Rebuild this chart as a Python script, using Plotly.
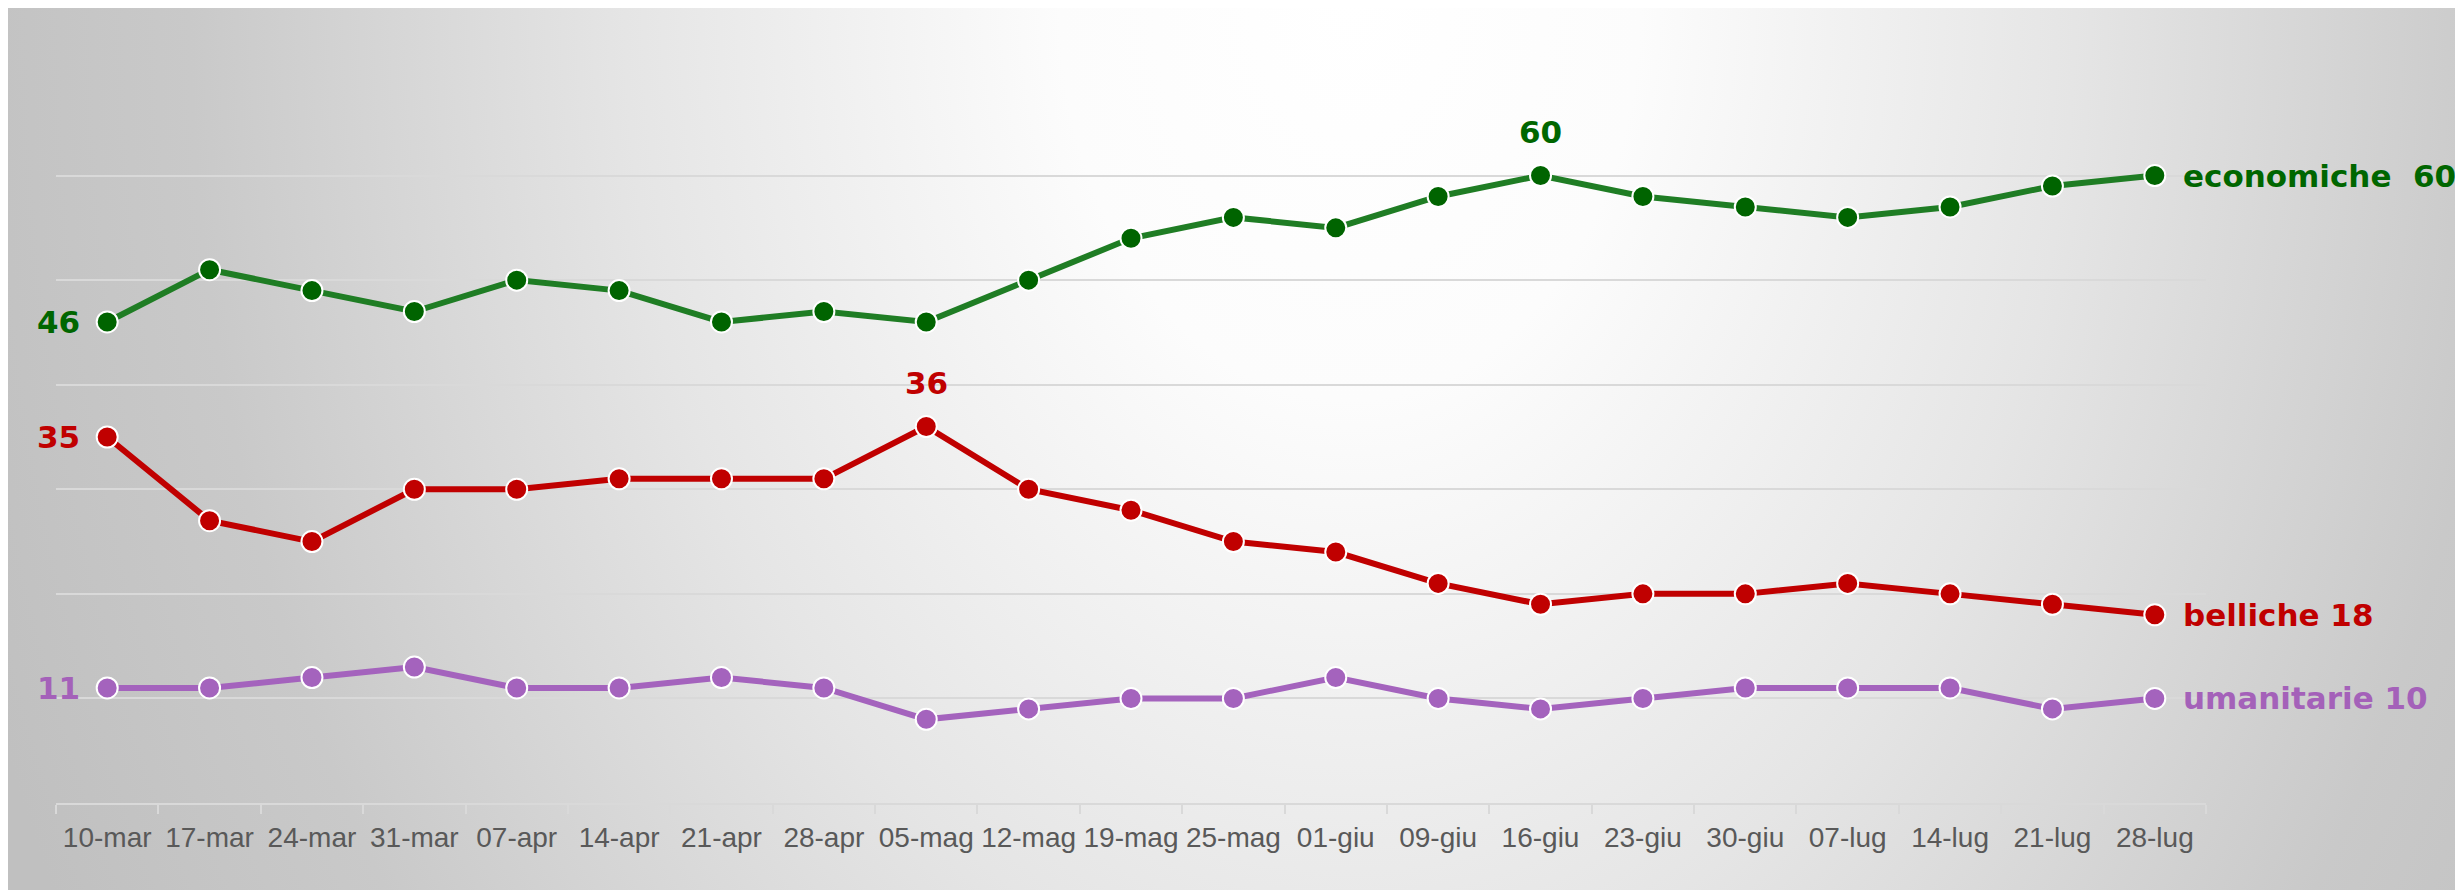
import base64
import plotly.graph_objects as go

dates = ["10-mar", "17-mar", "24-mar", "31-mar", "07-apr", "14-apr", "21-apr", "28-apr",
         "05-mag", "12-mag", "19-mag", "25-mag", "01-giu", "09-giu", "16-giu", "23-giu",
         "30-giu", "07-lug", "14-lug", "21-lug", "28-lug"]
economiche = [46, 51, 49, 47, 50, 49, 46, 47, 46, 50, 54, 56, 55, 58, 60, 58, 57, 56, 57, 59, 60]
belliche = [35, 27, 25, 30, 30, 31, 31, 31, 36, 30, 28, 25, 24, 21, 19, 20, 20, 21, 20, 19, 18]
umanitarie = [11, 11, 12, 13, 11, 11, 12, 11, 8, 9, 10, 10, 12, 10, 9, 10, 11, 11, 11, 9, 10]

series = [
    ("economiche", economiche, "#1f7d24", "#006400", "#006600", "economiche\u00a0\u00a0"),
    ("belliche", belliche, "#c00000", "#c00000", "#c00000", "belliche "),
    ("umanitarie", umanitarie, "#a463bd", "#a463bd", "#a461b9", "umanitarie "),
]

W, H = 2455, 882
ML, MR, MT, MB = 48, 257, 63, 87
PW, PH = W - ML - MR, H - MT - MB

# background radial gradient as svg (covers whole figure)
svg = f'''<svg xmlns="http://www.w3.org/2000/svg" width="{W}" height="{H}" viewBox="0 0 {W} {H}" preserveAspectRatio="none">
<defs><radialGradient id="g" gradientUnits="userSpaceOnUse" cx="0" cy="0" r="1" gradientTransform="translate(1342,-8) scale(1450,2000)">
<stop offset="0" stop-color="#ffffff"/>
<stop offset="0.2" stop-color="#fcfcfc"/>
<stop offset="0.5" stop-color="#e5e5e5"/>
<stop offset="0.8" stop-color="#c9c9c9"/>
<stop offset="1" stop-color="#c0c0c0"/>
</radialGradient></defs>
<rect x="0" y="0" width="{W}" height="{H}" fill="url(#g)"/></svg>'''
src = "data:image/svg+xml;base64," + base64.b64encode(svg.encode()).decode()

fig = go.Figure()
annotations = []
for name, vals, lc, mc, tc, lab in series:
    fig.add_trace(go.Scatter(
        x=dates, y=vals, mode="lines+markers", name=name,
        line=dict(color=lc, width=6),
        marker=dict(color=mc, size=21, line=dict(color="white", width=2)),
        hoverinfo="x+y", showlegend=False, cliponaxis=False))
    font = dict(family="DejaVu Sans", size=31, color=tc, weight="bold")
    annotations.append(dict(x=dates[0], y=vals[0], text=str(vals[0]), showarrow=False,
                            xanchor="right", yanchor="middle", xshift=-25, font=font))
    annotations.append(dict(x=dates[-1], y=vals[-1], text=lab + str(vals[-1]), showarrow=False,
                            xanchor="left", yanchor="middle", xshift=26, font=font))

# peak labels
for vals, tc in [(economiche, "#006600"), (belliche, "#c00000")]:
    idx = vals.index(max(vals))
    annotations.append(dict(x=dates[idx], y=vals[idx], text=str(vals[idx]), showarrow=False,
                            xanchor="center", yanchor="middle", yshift=44,
                            font=dict(family="DejaVu Sans", size=31, color=tc, weight="bold")))

fig.update_layout(
    width=W, height=H,
    margin=dict(l=ML, r=MR, t=MT, b=MB),
    paper_bgcolor="#c8c8c8", plot_bgcolor="rgba(0,0,0,0)",
    annotations=annotations,
    images=[dict(source=src, xref="paper", yref="paper",
                 x=-ML / PW, y=(H - MB) / PH,
                 sizex=W / PW, sizey=H / PH,
                 xanchor="left", yanchor="top", sizing="stretch", layer="below")],
    xaxis=dict(type="category", range=[-0.5, len(dates) - 0.5], showgrid=False,
               showline=True, linecolor="#d9d9d9", linewidth=2,
               ticks="outside", tickson="boundaries", ticklen=9, tickcolor="#d9d9d9", tickwidth=2,
               tickangle=0,
               tickfont=dict(family="Liberation Sans", size=28, color="#595959"),
               ticklabelstandoff=8, zeroline=False, fixedrange=True),
    yaxis=dict(range=[0, 70], dtick=10, showgrid=True, gridcolor="#d9d9d9", gridwidth=2,
               showticklabels=False, zeroline=False, showline=False, fixedrange=True),
)

fig.write_html("out.html", post_script="document.documentElement.style.overflow='hidden';document.body.style.overflow='hidden';")
